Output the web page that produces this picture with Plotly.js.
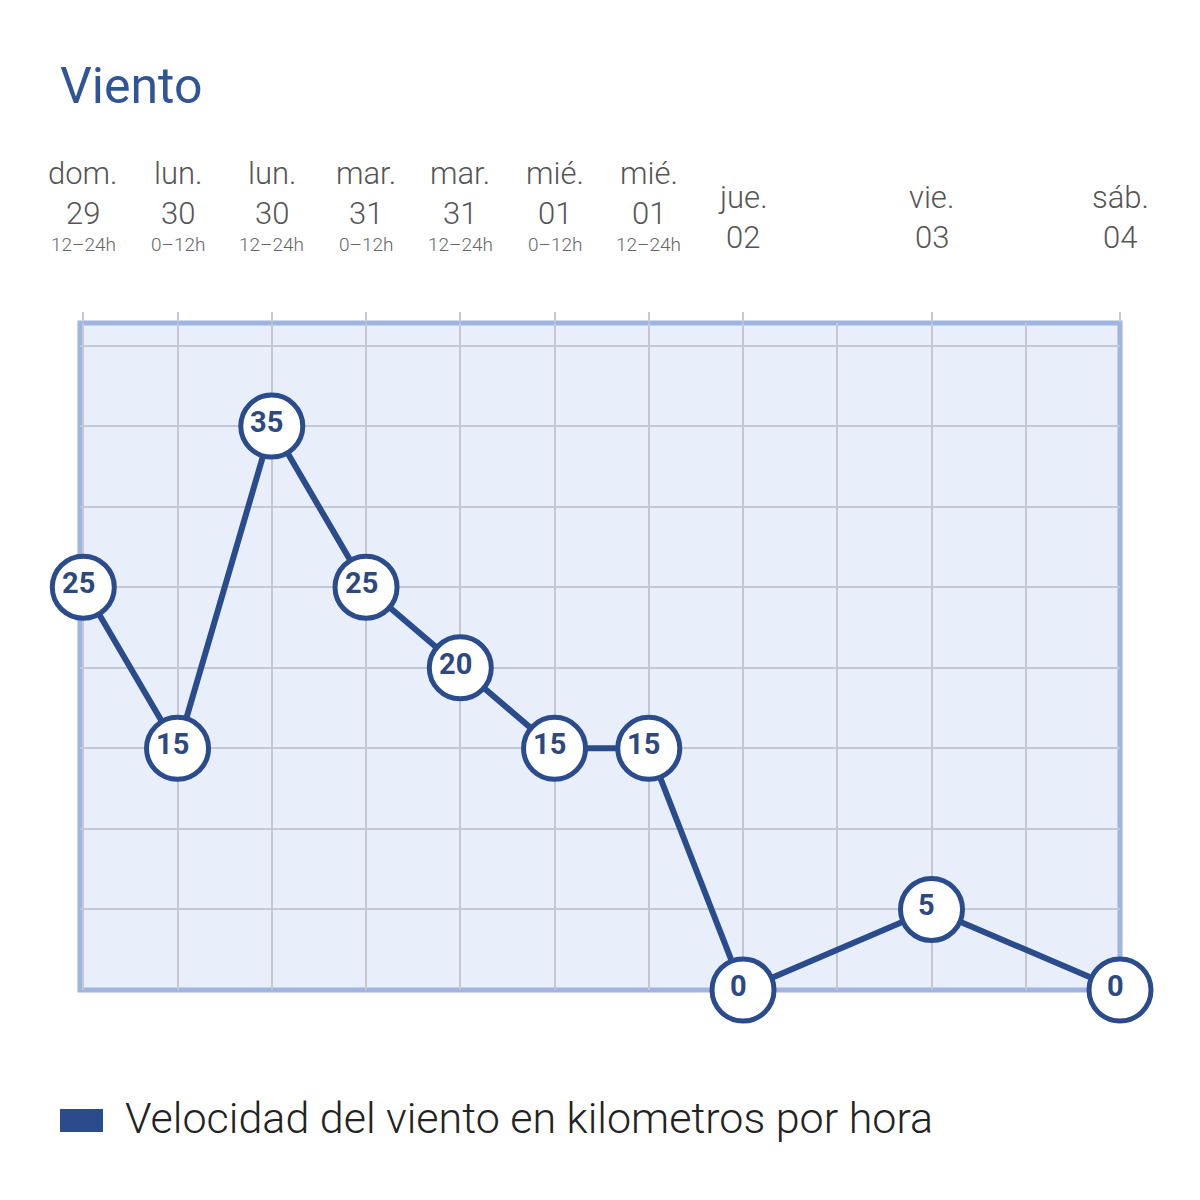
<!DOCTYPE html>
<html>
<head>
<meta charset="utf-8">
<script src="https://cdn.plot.ly/plotly-3.0.1.min.js"></script>
<style>
  html, body { margin: 0; padding: 0; background: #ffffff; }
  #graph { width: 1200px; height: 1200px; }
</style>
</head>
<body>
<div id="graph"></div>
<script>
/* ---------------- data ---------------- */

// position of each forecast on the time axis, in half-days from dom. 29 12h
var slots = [0, 1, 2, 3, 4, 5, 6, 7, 9, 11];
var dayNames = ['dom.', 'lun.', 'lun.', 'mar.', 'mar.', 'mié.', 'mié.', 'jue.', 'vie.', 'sáb.'];
var dayNums = ['29', '30', '30', '31', '31', '01', '01', '02', '03', '04'];
var hourRanges = ['12–24h', '0–12h', '12–24h', '0–12h', '12–24h', '0–12h', '12–24h', '', '', ''];
var windKmh = [25, 15, 35, 25, 20, 15, 15, 0, 5, 0];

var seriesName = 'Velocidad del viento en kilometros por hora';

/* ---------------- style ---------------- */

var navy = '#2b4c8c';
var greyText = '#555555';
var gridGrey = '#c3c8d3';
var font = 'Roboto, "Noto Sans", sans-serif';

// plot area sits between these pixels, headers and legend are placed relative to it
var plotLeft = 80, plotRight = 1120;
var plotTop = 323, plotBottom = 990;
function paperY(px) {
    return (plotBottom - px) / (plotBottom - plotTop);
}
function paperX(px) {
    return (px - plotLeft) / (plotRight - plotLeft);
}

var windTrace = {
    x: slots,
    y: windKmh,
    mode: 'lines+markers',
    line: { color: navy, width: 6 },
    marker: {
        size: 62,
        color: '#ffffff',
        line: { color: navy, width: 5 }
    },
    cliponaxis: false,
    showlegend: false,
    hoverinfo: 'skip'
};

var annotations = [];

// value labels, sitting a touch up-left of the circle centre as in the original
for (var k = 0; k < slots.length; k++) {
    annotations.push({
        x: slots[k], xref: 'x',
        y: windKmh[k], yref: 'y',
        text: String(windKmh[k]), showarrow: false,
        xanchor: 'center', yanchor: 'middle',
        xshift: -5, yshift: 4,
        font: { family: font, size: 29, color: '#2c4a80', weight: 700 }
    });
}

// column headers
for (var i = 0; i < slots.length; i++) {
    var halfDay = hourRanges[i] !== '';
    annotations.push({
        x: slots[i], xref: 'x',
        y: paperY(halfDay ? 173 : 197), yref: 'paper',
        text: dayNames[i], showarrow: false,
        xanchor: 'center', yanchor: 'middle',
        font: { family: font, size: 31, color: greyText, weight: 300 }
    });
    annotations.push({
        x: slots[i], xref: 'x',
        y: paperY(halfDay ? 213 : 237), yref: 'paper',
        text: dayNums[i], showarrow: false,
        xanchor: 'center', yanchor: 'middle',
        font: { family: font, size: 31, color: greyText, weight: 300 }
    });
    if (halfDay) {
        annotations.push({
            x: slots[i], xref: 'x',
            y: paperY(245), yref: 'paper',
            text: hourRanges[i], showarrow: false,
            xanchor: 'center', yanchor: 'middle',
            font: { family: font, size: 19, color: '#666666', weight: 300 }
        });
    }
}

// legend text
annotations.push({
    x: paperX(123), xref: 'paper',
    y: paperY(1118), yref: 'paper',
    text: seriesName, showarrow: false,
    xanchor: 'left', yanchor: 'middle',
    font: { family: font, size: 43, color: '#222222', weight: 300 }
});

var layout = {
    width: 1200,
    height: 1200,
    paper_bgcolor: '#ffffff',
    plot_bgcolor: '#e9effa',
    margin: { l: plotLeft, r: 1200 - plotRight, t: plotTop, b: 1200 - plotBottom },
    title: {
        text: 'Viento',
        x: 60 / 1200, xref: 'container', xanchor: 'left',
        y: 1 - 85 / 1200, yref: 'container', yanchor: 'middle',
        font: { family: font, size: 50, color: '#2f5596' }
    },
    showlegend: false,
    xaxis: {
        range: [-0.035, 11],
        side: 'top',
        tickvals: slots,
        showticklabels: false,
        ticks: 'outside',
        ticklen: 10,
        tickwidth: 2,
        tickcolor: gridGrey,
        showgrid: true,
        gridcolor: gridGrey,
        gridwidth: 2,
        minor: { dtick: 1, tick0: 0, showgrid: true, gridcolor: gridGrey, gridwidth: 2, ticks: '' },
        zeroline: false,
        showline: false,
        fixedrange: true
    },
    yaxis: {
        range: [0, 41.4],
        dtick: 5,
        tick0: 0,
        showticklabels: false,
        ticks: '',
        showgrid: true,
        gridcolor: gridGrey,
        gridwidth: 2,
        zeroline: false,
        showline: false,
        fixedrange: true
    },
    shapes: [
        {
            // plot frame
            type: 'rect',
            xref: 'paper', yref: 'paper',
            x0: 0, x1: 1, y0: 0, y1: 1,
            line: { color: '#9fb4de', width: 5 },
            fillcolor: 'rgba(0,0,0,0)',
            layer: 'below'
        },
        {
            // legend swatch
            type: 'rect',
            xref: 'paper', yref: 'paper',
            x0: paperX(60), x1: paperX(103),
            y0: paperY(1132), y1: paperY(1109),
            line: { width: 0 },
            fillcolor: navy
        }
    ],
    annotations: annotations
};

var graph = document.getElementById('graph');
Plotly.newPlot(graph, [windTrace], layout, { staticPlot: true });
</script>
</body>
</html>
